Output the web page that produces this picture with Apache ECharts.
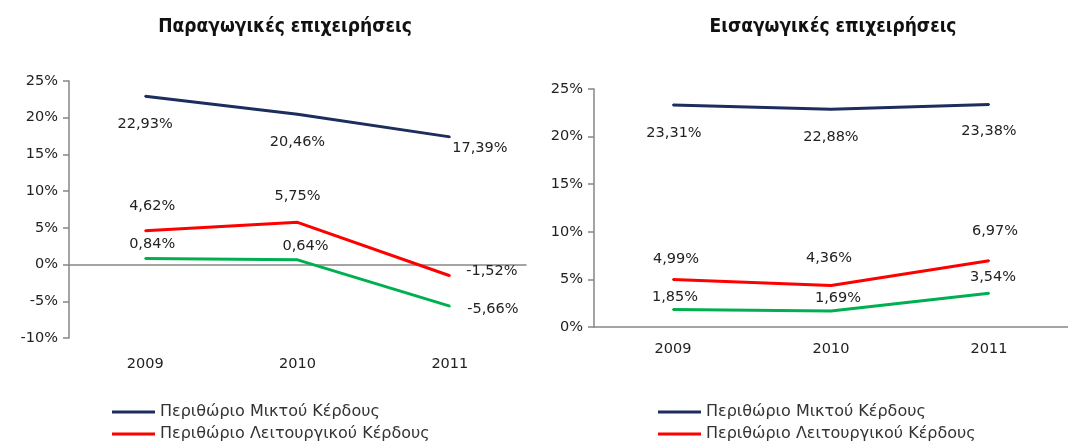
<!DOCTYPE html>
<html>
  <head>
    <meta charset="utf-8" />
    <title>Περιθώρια κέρδους</title>
    <style>
      html,
      body {
        margin: 0;
        padding: 0;
        background: #fff;
      }
      #chart-container {
        width: 1068px;
        height: 441px;
      }
    </style>
    <script src="https://cdn.jsdelivr.net/npm/echarts@6/dist/echarts.min.js"></script>
  </head>
  <body>
    <div id="chart-container"></div>

    <script>
      // δεδομένα
      var years = ["2009", "2010", "2011"];
      var seriesNames = [
        "Περιθώριο Μικτού Κέρδους",
        "Περιθώριο Λειτουργικού Κέρδους",
        "Περιθώριο Καθαρού Κέρδους",
      ];
      // Παραγωγικές επιχειρήσεις
      var prodGross = [22.93, 20.46, 17.39];
      var prodOperating = [4.62, 5.75, -1.52];
      var prodNet = [0.84, 0.64, -5.66];
      // Εισαγωγικές επιχειρήσεις
      var impGross = [23.31, 22.88, 23.38];
      var impOperating = [4.99, 4.36, 6.97];
      var impNet = [1.85, 1.69, 3.54];

      var colors = ["#1c2d5e", "#ff0000", "#00b050"];

      // μετατόπιση ετικετών (μόνο εμφάνιση)
      var prodOffsets = [
        [[0, 28], [0, 28], [30, 11]],
        [[7, -24], [0, -26], [42, -4]],
        [[7, -14], [8, -14], [43, 3]],
      ];
      var impOffsets = [
        [[1, 28], [0, 28], [0, 27]],
        [[3, -20], [-2, -27], [6, -29]],
        [[2, -12], [7, -13], [4, -16]],
      ];

      function fmt(v) {
        return v.toFixed(2).replace(".", ",") + "%";
      }

      function makeSeries(values, offsets, idx, axisIdx) {
        return {
          name: seriesNames[idx],
          type: "line",
          xAxisIndex: axisIdx,
          yAxisIndex: axisIdx,
          symbol: "circle",
          symbolSize: 2,
          lineStyle: { width: 3, color: colors[idx] },
          itemStyle: { color: colors[idx] },
          label: {
            show: true,
            position: "inside",
            color: "#222",
            fontFamily: "DejaVu Sans",
            fontSize: 14.5,
            formatter: function (p) {
              return fmt(p.value);
            },
          },
          data: values.map(function (v, i) {
            return { value: v, label: { offset: offsets[idx][i] } };
          }),
        };
      }

      var axisColor = "#868686";
      var axisFont = { fontFamily: "DejaVu Sans", fontSize: 14.5, color: "#222" };

      function xAxis(grid, margin) {
        return {
          type: "category",
          gridIndex: grid,
          data: years,
          boundaryGap: true,
          axisLine: { lineStyle: { color: axisColor, width: 1.5 } },
          axisTick: { length: 5, lineStyle: { color: axisColor, width: 1.5 } },
          axisLabel: Object.assign({ margin: margin }, axisFont),
        };
      }

      function yAxis(grid, min) {
        return {
          type: "value",
          gridIndex: grid,
          min: min,
          max: 25,
          interval: 5,
          splitLine: { show: false },
          axisLine: { show: true, lineStyle: { color: axisColor, width: 1.5 } },
          axisTick: { show: true, length: 6, lineStyle: { color: axisColor, width: 1.5 } },
          axisLabel: Object.assign(
            {
              margin: 11,
              formatter: function (v) {
                return v + "%";
              },
            },
            axisFont
          ),
        };
      }

      var legendBase = {
        orient: "vertical",
        top: 404,
        height: 120,
        padding: 0,
        icon: "rect",
        itemWidth: 43,
        itemHeight: 3,
        itemGap: 6,
        data: seriesNames,
        textStyle: {
          fontFamily: "DejaVu Sans",
          fontSize: 16,
          lineHeight: 16,
          color: "#333",
        },
      };

      var titleStyle = {
        fontFamily: "'DejaVu Sans Condensed', 'Liberation Sans Narrow', 'Liberation Sans', sans-serif",
        fontWeight: "bold",
        fontSize: 19,
        color: "#111",
      };

      var myChart = echarts.init(document.getElementById("chart-container"), null, {
        renderer: "canvas",
      });

      var option = {
        animation: false,
        title: [
          {
            text: "Παραγωγικές επιχειρήσεις",
            left: 280,
            top: 13,
            textAlign: "center",
            textStyle: titleStyle,
          },
          {
            text: "Εισαγωγικές επιχειρήσεις",
            left: 828,
            top: 13,
            textAlign: "center",
            textStyle: titleStyle,
          },
        ],
        legend: [
          Object.assign({ left: 112 }, legendBase),
          Object.assign({ left: 658 }, legendBase),
        ],
        grid: [
          { left: 69, top: 81, width: 457, height: 257 },
          { left: 594, top: 89, width: 484, height: 238 },
        ],
        xAxis: [xAxis(0, 19), xAxis(1, 15)],
        yAxis: [yAxis(0, -10), yAxis(1, 0)],
        series: [
          makeSeries(prodGross, prodOffsets, 0, 0),
          makeSeries(prodOperating, prodOffsets, 1, 0),
          makeSeries(prodNet, prodOffsets, 2, 0),
          makeSeries(impGross, impOffsets, 0, 1),
          makeSeries(impOperating, impOffsets, 1, 1),
          makeSeries(impNet, impOffsets, 2, 1),
        ],
      };

      myChart.setOption(option);
    </script>
  </body>
</html>
